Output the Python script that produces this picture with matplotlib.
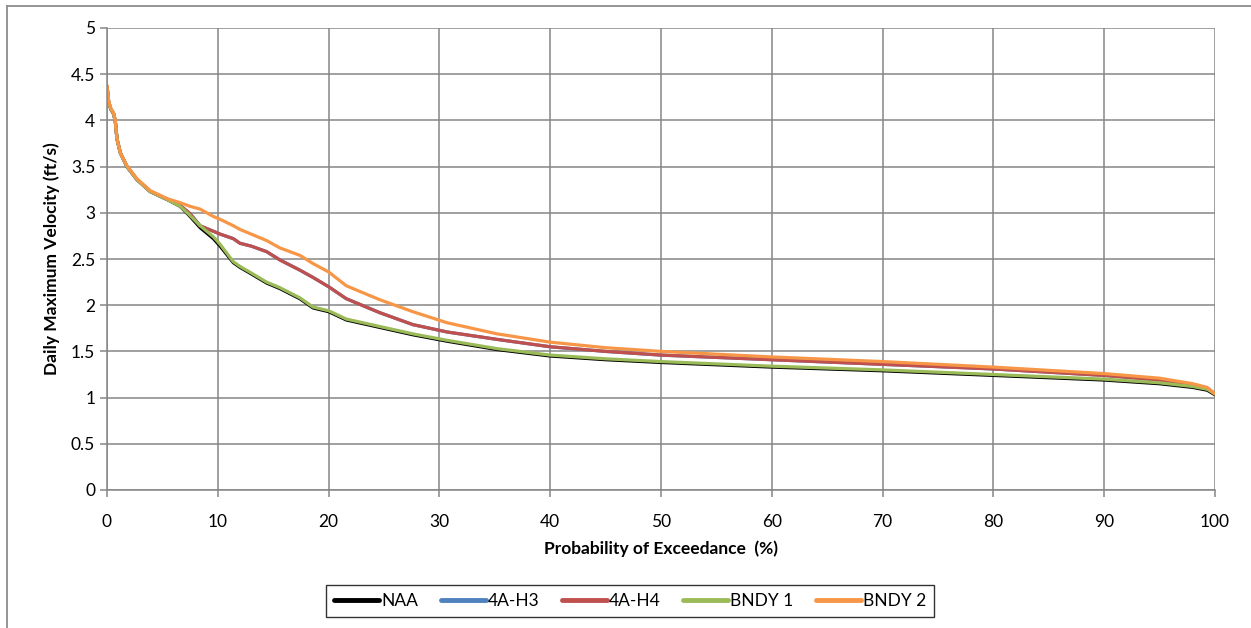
import matplotlib.pyplot as plt
from matplotlib.lines import Line2D

plt.rcParams['font.family'] = ['Lato', 'DejaVu Sans']

# Probability of exceedance (%) and daily max velocity (ft/s)
pct = [0, 0.15, 0.35, 0.6, 0.75, 0.9, 1.2, 1.8, 2.7, 3.9, 5.5, 6.6, 7.5, 8.4,
       9.6, 10.2, 11.4, 12.0, 13.0, 14.4, 15.6, 17.4, 18.6, 20.0, 21.6, 24.6,
       27.6, 30.7, 35.2, 40, 45, 50, 60, 70, 80, 90, 95, 98, 99.3, 100]

naa = [4.36, 4.20, 4.12, 4.07, 3.99, 3.80, 3.65, 3.50, 3.36, 3.23, 3.14, 3.07,
       2.96, 2.84, 2.72, 2.64, 2.46, 2.41, 2.34, 2.24, 2.18, 2.07, 1.97, 1.93,
       1.84, 1.76, 1.68, 1.61, 1.52, 1.45, 1.41, 1.38, 1.33, 1.29, 1.24, 1.19,
       1.15, 1.11, 1.08, 1.03]

bndy1 = [4.36, 4.20, 4.12, 4.07, 3.99, 3.80, 3.65, 3.50, 3.36, 3.23, 3.14, 3.07,
         2.97, 2.86, 2.74, 2.66, 2.47, 2.42, 2.35, 2.25, 2.19, 2.08, 1.98, 1.94,
         1.85, 1.77, 1.69, 1.62, 1.53, 1.46, 1.42, 1.39, 1.34, 1.30, 1.25, 1.20,
         1.16, 1.12, 1.09, 1.04]

h4 = [4.37, 4.20, 4.12, 4.07, 3.99, 3.80, 3.65, 3.50, 3.36, 3.23, 3.14, 3.08,
      2.99, 2.86, 2.80, 2.77, 2.72, 2.67, 2.64, 2.58, 2.49, 2.38, 2.30, 2.20,
      2.07, 1.92, 1.79, 1.71, 1.63, 1.55, 1.50, 1.46, 1.41, 1.36, 1.31, 1.24,
      1.19, 1.14, 1.10, 1.04]

h3 = h4

bndy2 = [4.38, 4.21, 4.13, 4.08, 4.00, 3.80, 3.65, 3.51, 3.37, 3.24, 3.15, 3.11,
         3.07, 3.04, 2.96, 2.93, 2.86, 2.82, 2.77, 2.70, 2.62, 2.54, 2.45, 2.36,
         2.21, 2.06, 1.93, 1.81, 1.69, 1.60, 1.54, 1.50, 1.44, 1.39, 1.33, 1.26,
         1.21, 1.15, 1.11, 1.04]

series = [("NAA", naa, "#000000"),
          ("4A-H3", h3, "#4f81bd"),
          ("4A-H4", h4, "#c0504d"),
          ("BNDY 1", bndy1, "#9bbb59"),
          ("BNDY 2", bndy2, "#f79646")]

fig = plt.figure(figsize=(12.51, 6.28), dpi=100)
ax = fig.add_axes([107 / 1251, 138 / 628, 1108 / 1251, 462 / 628])

for name, vals, col in series:
    ax.plot(pct, vals, color=col, lw=2.3, label=name, solid_capstyle='round')

grid_col = "#868686"
ax.set_xlim(0, 100)
ax.set_ylim(0, 5)
ax.set_xticks(range(0, 101, 10))
ax.set_yticks([0, 0.5, 1, 1.5, 2, 2.5, 3, 3.5, 4, 4.5, 5])
ax.set_yticklabels(["0", "0.5", "1", "1.5", "2", "2.5", "3", "3.5", "4", "4.5", "5"])
ax.grid(True, color=grid_col, lw=1.1)
ax.set_axisbelow(True)
for s in ["top", "right"]:
    ax.spines[s].set_visible(False)
for s in ["left", "bottom"]:
    ax.spines[s].set_color(grid_col)
    ax.spines[s].set_linewidth(1.1)
ax.tick_params(axis='both', colors=grid_col, labelcolor='black', labelsize=12.5,
               length=5, width=1.1)
ax.tick_params(axis='x', pad=12)

ax.set_xlabel("Probability of Exceedance  (%)", fontsize=12.5, fontweight='bold', labelpad=8)
ax.set_ylabel("Daily Maximum Velocity (ft/s)", fontsize=12.5, fontweight='bold', labelpad=8)

handles = [Line2D([], [], color=c, lw=3.5, solid_capstyle='round') for _, _, c in series]
leg = fig.legend(handles, [n for n, _, _ in series], loc='center',
                 bbox_to_anchor=(630 / 1251, 1 - 601 / 628), ncol=5, fontsize=12.5,
                 frameon=True, fancybox=False, edgecolor='black', handlelength=2.6,
                 handletextpad=0.1, columnspacing=1.3, borderpad=0.45)
leg.get_frame().set_linewidth(1.0)

# outer chart border (cropped on the right/bottom)
fig.add_artist(Line2D([7 / 1251, 1.0], [1 - 6 / 628, 1 - 6 / 628], color="#8c8c8c", lw=1.3))
fig.add_artist(Line2D([7 / 1251, 7 / 1251], [0, 1 - 6 / 628], color="#8c8c8c", lw=1.3))

fig.savefig("out.png", dpi=100)
